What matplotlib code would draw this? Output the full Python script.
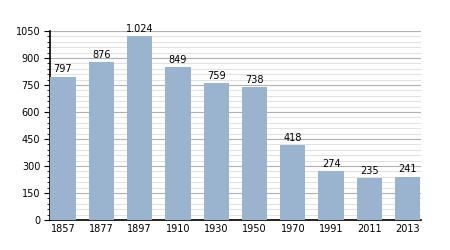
import matplotlib.pyplot as plt
from matplotlib.ticker import MultipleLocator

years = ["1857", "1877", "1897", "1910", "1930", "1950", "1970", "1991", "2011", "2013"]
population = [797, 876, 1024, 849, 759, 738, 418, 274, 235, 241]
labels = ["797", "876", "1.024", "849", "759", "738", "418", "274", "235", "241"]

fig = plt.figure(figsize=(4.5, 2.5), dpi=100)
ax = fig.add_axes([0.111, 0.12, 0.824, 0.756])

x = range(len(years))
ax.bar(x, population, width=0.66, color="#9ab3cf", zorder=3)
for i, (v, lab) in enumerate(zip(population, labels)):
    ax.text(i, v + 12, lab, ha="center", va="bottom", fontsize=7)

ax.set_xlim(-0.34, len(years) - 0.66)
ax.set_ylim(0, 1050)
ax.yaxis.set_major_locator(MultipleLocator(150))
ax.yaxis.set_minor_locator(MultipleLocator(30))
ax.grid(axis="y", which="major", color="#b0b0b0", lw=0.8, zorder=0)
ax.grid(axis="y", which="minor", color="#e2e2e2", lw=0.8, zorder=0)
ax.set_xticks(list(x))
ax.set_xticklabels(years)
ax.tick_params(axis="x", length=0, labelsize=7, pad=3)
ax.tick_params(axis="y", which="major", direction="out", length=4, labelsize=7, pad=3)
ax.tick_params(axis="y", which="minor", direction="out", length=2)
for s in ["top", "right"]:
    ax.spines[s].set_visible(False)
ax.spines["left"].set_linewidth(1.2)
ax.spines["bottom"].set_linewidth(1.2)

fig.savefig("out.png", dpi=100)
